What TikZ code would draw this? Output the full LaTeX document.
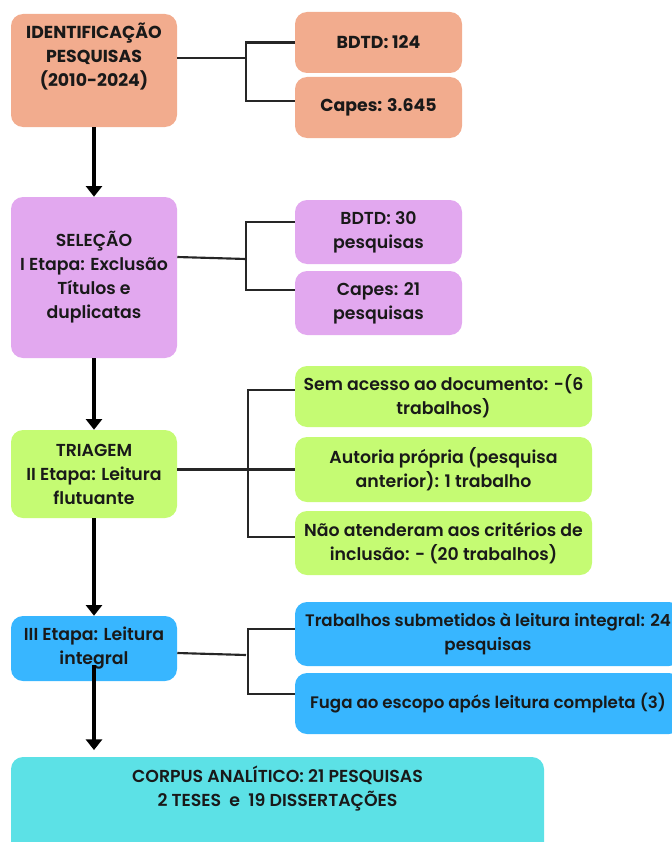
\documentclass[tikz,border=0pt]{standalone}
\usepackage{fontspec}
\setmainfont{Poppins}[UprightFont=* SemiBold, BoldFont=* Bold]
\usetikzlibrary{arrows.meta}

\definecolor{salmon}{HTML}{F2AC8E}
\definecolor{lilac}{HTML}{E2A8EF}
\definecolor{lime}{HTML}{C5FB73}
\definecolor{sky}{HTML}{38B6FF}
\definecolor{aqua}{HTML}{5CE1E6}

\begin{document}
\begin{tikzpicture}[x=0.75pt, y=-0.75pt, >={Triangle[width=12pt, length=8pt]}]
				\tikzstyle{boxed} = [draw=none, rounded corners=9pt, align=center, inner sep=2pt, text=black!90, font=\fontsize{13pt}{18pt}\selectfont]
				\tikzstyle{stagebox} = [boxed, minimum width=124.5pt]
				\tikzstyle{sidebox} = [boxed, minimum width=125.25pt]
				\tikzstyle{widebox} = [boxed, minimum width=222.75pt]
				\tikzstyle{longbox} = [boxed, minimum width=289.5pt, font=\fontsize{12.5pt}{18pt}\selectfont]
				\tikzstyle{heavy} = [font=\fontsize{13pt}{18pt}\selectfont\bfseries]
				\tikzstyle{link} = [line width=1.6pt, draw=black!85]
				\tikzstyle{flow} = [->, line width=2.6pt]
				
				\useasboundingbox (0, 0) rectangle (671, 842);
				
				\node[stagebox, heavy, fill=salmon, minimum height=84.75pt] 	at (94, 70.5) 	(ident) 	{IDENTIFICAÇÃO\\PESQUISAS\\(2010-2024)\\[5pt]\mbox{}};
				\node[sidebox, heavy, fill=salmon, minimum height=45.75pt] 	at (378.5, 42.5) 	(bdtd) 	{BDTD: 124};
				\node[sidebox, heavy, fill=salmon, minimum height=45.75pt] 	at (378.5, 107.5) 	(capes) 	{Capes: 3.645};
				
				\node[stagebox, fill=lilac, minimum height=120.75pt] 	at (94, 277.5) 	(sel) 	{SELEÇÃO\\I Etapa: Exclusão\\Títulos e\\duplicatas};
				\node[sidebox, fill=lilac, minimum height=48pt] 	at (378.5, 232) 	(bdtdsel) 	{BDTD: 30\\pesquisas};
				\node[sidebox, fill=lilac, minimum height=48pt] 	at (378.5, 303) 	(capessel) 	{Capes: 21\\pesquisas};
				
				\node[stagebox, fill=lime, minimum height=66pt] 	at (94, 474) 	(tri) 	{TRIAGEM\\II Etapa: Leitura\\flutuante};
				\node[widebox, fill=lime, minimum height=45.75pt] 	at (443.5, 396.5) 	(noaccess) 	{Sem acesso ao documento: -(6\\trabalhos)};
				\node[widebox, fill=lime, minimum height=48.75pt] 	at (443.5, 469.5) 	(ownwork) 	{Autoria própria (pesquisa\\anterior): 1 trabalho};
				\node[widebox, fill=lime, minimum height=48pt] 	at (443.5, 543) 	(criteria) 	{Não atenderam aos critérios de\\inclusão: - (20 trabalhos)};
				
				\node[stagebox, fill=sky, minimum height=48.75pt] 	at (94, 648.5) 	(full) 	{III Etapa: Leitura\\integral};
				\node[longbox, fill=sky, minimum height=48pt] 	at (488, 634) 	(submitted) 	{Trabalhos submetidos à leitura integral: 24\\pesquisas};
				\node[longbox, fill=sky, minimum height=45.75pt] 	at (488, 703.5) 	(scope) 	{Fuga ao escopo após leitura completa (3)};
				
				\node[boxed, fill=aqua, minimum width=399.75pt, minimum height=84.75pt] 	at (277.5, 813.5) 	(corpus) 	{CORPUS ANALÍTICO: 21 PESQUISAS\\2 TESES~~e~~19 DISSERTAÇÕES\\[23pt]\mbox{}};
				
				\coordinate (j1) at (246, 58);
				\coordinate (j1b) at (246, 101);
				\coordinate (j2) at (246, 259);
				\coordinate (j2a) at (246, 222);
				\coordinate (j2b) at (246, 290);
				\coordinate (j3a) at (248, 390);
				\coordinate (j3b) at (248, 537);
				\coordinate (j4) at (246, 655);
				\coordinate (j4a) at (248, 629);
				\coordinate (j4b) at (248, 694);
				
				\draw[link] (ident.east |- j1) -- (j1);
				\draw[link] (bdtd.west) -- (bdtd.west -| j1) -- (j1b) -- (j1b -| capes.west);
				\draw[link] (sel.east |- 0,257) -- (j2);
				\draw[link] (j2a -| bdtdsel.west) -- (j2a) -- (j2b) -- (j2b -| capessel.west);
				\draw[link] (tri.east |- ownwork.west) -- (ownwork.west);
				\draw[link] (j3a -| noaccess.west) -- (j3a) -- (j3b) -- (j3b -| criteria.west);
				\draw[link] (full.east |- 0,653) -- (j4);
				\draw[link] (j4a -| submitted.west) -- (j4a) -- (j4b) -- (j4b -| scope.west);
				
				\path[flow]
				(ident)	edge	(sel)
				(sel)	edge	(tri)
				(tri)	edge	(full);
				\draw[flow] ([yshift=12pt]full.south) -- ([yshift=5pt]full.south |- corpus.north);
\end{tikzpicture}
\end{document}
